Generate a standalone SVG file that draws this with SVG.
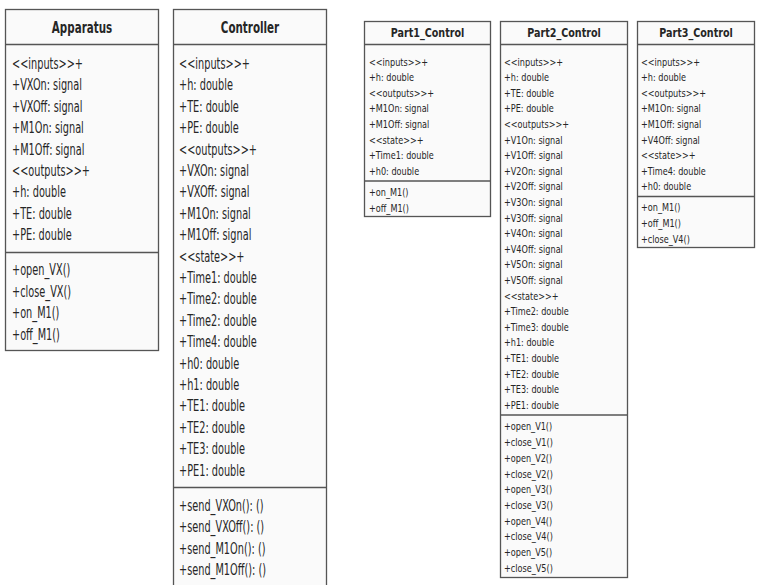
<svg xmlns="http://www.w3.org/2000/svg" width="758" height="585" viewBox="0 0 758 585">
<style>
.box{fill:#fafafa;stroke:#555;stroke-width:1.3}
.sep{stroke:#555;stroke-width:1.3;fill:none}
text{font-family:"DejaVu Sans",sans-serif;fill:#262626}
.big text{font-size:15px}
.small text{font-size:11px}
.bt{font-weight:bold;font-size:15px;text-anchor:middle}
.st{font-weight:bold;font-size:12px;text-anchor:middle}
</style>
<rect width="758" height="585" fill="#fff"/>
<g id="connectors"></g>

<g id="Apparatus">
<rect class="box" x="5.5" y="9.5" width="153" height="341"/>
<line class="sep" x1="5.5" y1="44.5" x2="158.5" y2="44.5"/>
<line class="sep" x1="5.5" y1="252.5" x2="158.5" y2="252.5"/>
<g transform="translate(82,33) scale(0.69,1)"><text class="bt">Apparatus</text></g>
<g class="big" transform="translate(12,0) scale(0.65,1)">
<text y="69">&lt;&lt;inputs&gt;&gt;+</text>
<text y="90.4">+VXOn: signal</text>
<text y="111.8">+VXOff: signal</text>
<text y="133.2">+M1On: signal</text>
<text y="154.6">+M1Off: signal</text>
<text y="176">&lt;&lt;outputs&gt;&gt;+</text>
<text y="197.4">+h: double</text>
<text y="218.8">+TE: double</text>
<text y="240.2">+PE: double</text>
<text y="275.5">+open_VX()</text>
<text y="296.9">+close_VX()</text>
<text y="318.3">+on_M1()</text>
<text y="339.7">+off_M1()</text>
</g>
</g>

<g id="Controller">
<rect class="box" x="173.5" y="9.5" width="153" height="600"/>
<line class="sep" x1="173.5" y1="44.5" x2="326.5" y2="44.5"/>
<line class="sep" x1="173.5" y1="487.5" x2="326.5" y2="487.5"/>
<g transform="translate(250,33) scale(0.69,1)"><text class="bt">Controller</text></g>
<g class="big" transform="translate(179,0) scale(0.65,1)">
<text y="69">&lt;&lt;inputs&gt;&gt;+</text>
<text y="90.4">+h: double</text>
<text y="111.8">+TE: double</text>
<text y="133.2">+PE: double</text>
<text y="154.6">&lt;&lt;outputs&gt;&gt;+</text>
<text y="176">+VXOn: signal</text>
<text y="197.4">+VXOff: signal</text>
<text y="218.8">+M1On: signal</text>
<text y="240.2">+M1Off: signal</text>
<text y="261.6">&lt;&lt;state&gt;&gt;+</text>
<text y="283">+Time1: double</text>
<text y="304.4">+Time2: double</text>
<text y="325.8">+Time2: double</text>
<text y="347.2">+Time4: double</text>
<text y="368.6">+h0: double</text>
<text y="390">+h1: double</text>
<text y="411.4">+TE1: double</text>
<text y="432.8">+TE2: double</text>
<text y="454.2">+TE3: double</text>
<text y="475.6">+PE1: double</text>
<text y="511">+send_VXOn(): ()</text>
<text y="532.4">+send_VXOff(): ()</text>
<text y="553.8">+send_M1On(): ()</text>
<text y="575.2">+send_M1Off(): ()</text>
</g>
</g>

<g id="Part1_Control">
<rect class="box" x="364.5" y="21.5" width="126" height="195"/>
<line class="sep" x1="364.5" y1="44.5" x2="490.5" y2="44.5"/>
<line class="sep" x1="364.5" y1="181" x2="490.5" y2="181"/>
<g transform="translate(427.5,37.3) scale(0.8,1)"><text class="st">Part1_Control</text></g>
<g class="small" transform="translate(369,0) scale(0.74,1)">
<text y="65.7">&lt;&lt;inputs&gt;&gt;+</text>
<text y="81.3">+h: double</text>
<text y="96.9">&lt;&lt;outputs&gt;&gt;+</text>
<text y="112.5">+M1On: signal</text>
<text y="128.1">+M1Off: signal</text>
<text y="143.7">&lt;&lt;state&gt;&gt;+</text>
<text y="159.3">+Time1: double</text>
<text y="174.9">+h0: double</text>
<text y="196">+on_M1()</text>
<text y="211.6">+off_M1()</text>
</g>
</g>

<g id="Part2_Control">
<rect class="box" x="500.5" y="21.5" width="127" height="556"/>
<line class="sep" x1="500.5" y1="44.5" x2="627.5" y2="44.5"/>
<line class="sep" x1="500.5" y1="415" x2="627.5" y2="415"/>
<g transform="translate(564,37.3) scale(0.8,1)"><text class="st">Part2_Control</text></g>
<g class="small" transform="translate(504,0) scale(0.74,1)">
<text y="65.7">&lt;&lt;inputs&gt;&gt;+</text>
<text y="81.3">+h: double</text>
<text y="96.9">+TE: double</text>
<text y="112.5">+PE: double</text>
<text y="128.1">&lt;&lt;outputs&gt;&gt;+</text>
<text y="143.7">+V1On: signal</text>
<text y="159.3">+V1Off: signal</text>
<text y="174.9">+V2On: signal</text>
<text y="190.5">+V2Off: signal</text>
<text y="206.1">+V3On: signal</text>
<text y="221.7">+V3Off: signal</text>
<text y="237.3">+V4On: signal</text>
<text y="252.9">+V4Off: signal</text>
<text y="268.5">+V5On: signal</text>
<text y="284.1">+V5Off: signal</text>
<text y="299.7">&lt;&lt;state&gt;&gt;+</text>
<text y="315.3">+Time2: double</text>
<text y="330.9">+Time3: double</text>
<text y="346.5">+h1: double</text>
<text y="362.1">+TE1: double</text>
<text y="377.7">+TE2: double</text>
<text y="393.3">+TE3: double</text>
<text y="408.9">+PE1: double</text>
<text y="430.5">+open_V1()</text>
<text y="446.2">+close_V1()</text>
<text y="461.9">+open_V2()</text>
<text y="477.6">+close_V2()</text>
<text y="493.3">+open_V3()</text>
<text y="509">+close_V3()</text>
<text y="524.7">+open_V4()</text>
<text y="540.4">+close_V4()</text>
<text y="556.1">+open_V5()</text>
<text y="571.8">+close_V5()</text>
</g>
</g>

<g id="Part3_Control">
<rect class="box" x="637.5" y="21.5" width="117" height="226"/>
<line class="sep" x1="637.5" y1="44.5" x2="754.5" y2="44.5"/>
<line class="sep" x1="637.5" y1="196.5" x2="754.5" y2="196.5"/>
<g transform="translate(696,37.3) scale(0.8,1)"><text class="st">Part3_Control</text></g>
<g class="small" transform="translate(641,0) scale(0.74,1)">
<text y="65.7">&lt;&lt;inputs&gt;&gt;+</text>
<text y="81.3">+h: double</text>
<text y="96.9">&lt;&lt;outputs&gt;&gt;+</text>
<text y="112.5">+M1On: signal</text>
<text y="128.1">+M1Off: signal</text>
<text y="143.7">+V4Off: signal</text>
<text y="159.3">&lt;&lt;state&gt;&gt;+</text>
<text y="174.9">+Time4: double</text>
<text y="190.5">+h0: double</text>
<text y="211.5">+on_M1()</text>
<text y="227.1">+off_M1()</text>
<text y="242.7">+close_V4()</text>
</g>
</g>
</svg>
